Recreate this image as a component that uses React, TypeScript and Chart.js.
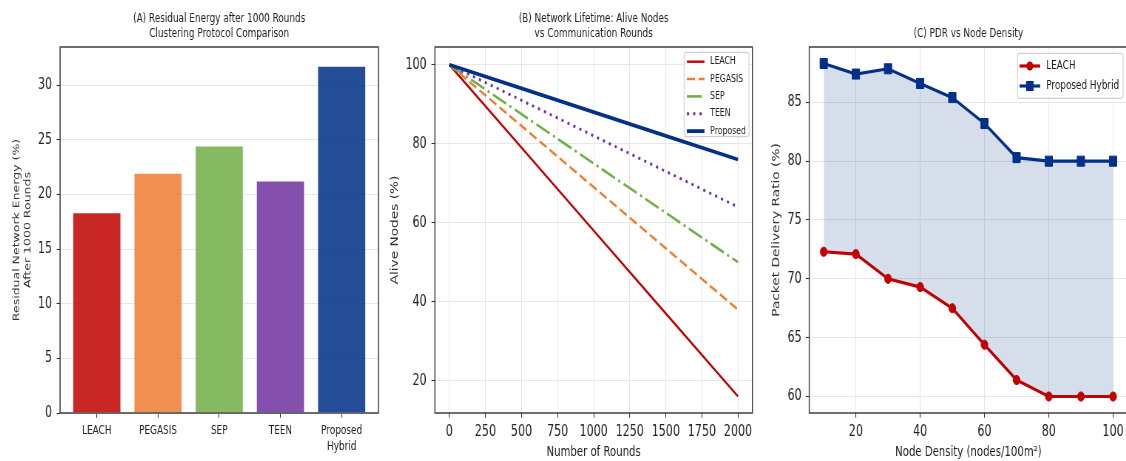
import React, { useEffect, useRef } from 'react';
import { Chart, registerables } from 'chart.js';
Chart.register(...registerables);

const FONT = "'DejaVu Sans', sans-serif";
// the reference figure is horizontally compressed; charts are drawn wider and squeezed by CSS
const K = 0.74;

// (A) residual energy
const energyCategories = ['LEACH', 'PEGASIS', 'SEP', 'TEEN', 'Proposed Hybrid'];
const energyTickLabels: (string | string[])[] = ['LEACH', 'PEGASIS', 'SEP', 'TEEN', ['Proposed', 'Hybrid']];
const residualEnergy = [18.4, 22.0, 24.5, 21.3, 31.8];
const energyYTicks = [0, 5, 10, 15, 20, 25, 30];
const barColors = ['rgba(192,0,0,0.85)', 'rgba(237,125,49,0.85)', 'rgba(112,173,71,0.85)', 'rgba(112,48,160,0.85)', 'rgba(0,48,135,0.86)'];

// (B) alive nodes
const rounds = [0, 500, 1000, 1500, 2000];
const aliveLEACH = [100, 79, 58, 37, 16];
const alivePEGASIS = [100, 84.5, 69, 53.5, 38];
const aliveSEP = [100, 87.5, 75, 62.5, 50];
const aliveTEEN = [100, 91, 82, 73, 64];
const aliveProposed = [100, 94, 88, 82, 76];
const lifetimeLabels = ['LEACH', 'PEGASIS', 'SEP', 'TEEN', 'Proposed'];
const roundTicks = [0, 250, 500, 750, 1000, 1250, 1500, 1750, 2000];
const aliveTicks = [20, 40, 60, 80, 100];

// (C) PDR
const nodeDensity = [10, 20, 30, 40, 50, 60, 70, 80, 90, 100];
const pdrLEACH = [72.3, 72.1, 70.0, 69.3, 67.5, 64.4, 61.4, 60.0, 60.0, 60.0];
const pdrProposed = [88.3, 87.4, 87.85, 86.6, 85.4, 83.2, 80.3, 80.0, 80.0, 80.0];
const densityTicks = [20, 40, 60, 80, 100];
const pdrTicks = [60, 65, 70, 75, 80, 85];

const RED = '#C00000';
const ORANGE = '#ED7D31';
const GREEN = '#70AD47';
const PURPLE = '#7030A0';
const NAVY = '#003087';
const GRID = '#e6e6e6';
const SPINE = '#333333';

const framePlugin = {
  id: 'frame',
  afterDatasetsDraw(chart: any) {
    const { ctx, chartArea: a } = chart;
    ctx.save();
    ctx.strokeStyle = SPINE;
    ctx.lineWidth = 1.4;
    ctx.strokeRect(a.left, a.top, a.right - a.left, a.bottom - a.top);
    ctx.restore();
  },
};

const legendPlugin = {
  id: 'boxLegend',
  afterDraw(chart: any, _args: any, o: any) {
    if (!o || !o.items) return;
    const { ctx, chartArea: a } = chart;
    ctx.save();
    ctx.font = `${o.fontSize}px ${FONT}`;
    let maxW = 0;
    o.items.forEach((it: any) => { maxW = Math.max(maxW, ctx.measureText(it.label).width); });
    const width = o.textX + maxW + o.padRight;
    const x1 = a.right - o.right;
    const x0 = x1 - width;
    const y0 = a.top + o.top;
    const h = o.height;
    const r = 3;
    ctx.beginPath();
    ctx.moveTo(x0 + r, y0);
    ctx.lineTo(x1 - r, y0);
    ctx.quadraticCurveTo(x1, y0, x1, y0 + r);
    ctx.lineTo(x1, y0 + h - r);
    ctx.quadraticCurveTo(x1, y0 + h, x1 - r, y0 + h);
    ctx.lineTo(x0 + r, y0 + h);
    ctx.quadraticCurveTo(x0, y0 + h, x0, y0 + h - r);
    ctx.lineTo(x0, y0 + r);
    ctx.quadraticCurveTo(x0, y0, x0 + r, y0);
    ctx.closePath();
    ctx.fillStyle = 'rgba(255,255,255,0.85)';
    ctx.fill();
    ctx.strokeStyle = '#d0d0d0';
    ctx.lineWidth = 1.2;
    ctx.stroke();
    o.items.forEach((it: any, i: number) => {
      const y = y0 + o.firstY + i * o.step;
      ctx.strokeStyle = it.color;
      ctx.lineWidth = it.width;
      ctx.setLineDash(it.dash || []);
      ctx.beginPath();
      ctx.moveTo(x0 + o.lineX0, y);
      ctx.lineTo(x0 + o.lineX1, y);
      ctx.stroke();
      ctx.setLineDash([]);
      const mx = x0 + (o.lineX0 + o.lineX1) / 2;
      ctx.fillStyle = it.color;
      if (it.marker === 'circle') {
        ctx.beginPath();
        ctx.arc(mx, y, it.markerSize, 0, Math.PI * 2);
        ctx.fill();
      } else if (it.marker === 'rect') {
        const s = it.markerSize;
        ctx.fillRect(mx - s, y - s, 2 * s, 2 * s);
      }
      ctx.fillStyle = '#222';
      ctx.textBaseline = 'middle';
      ctx.textAlign = 'left';
      ctx.fillText(it.label, x0 + o.textX, y);
    });
    ctx.restore();
  },
};

const fixWidth = (w: number) => (s: any) => { s.width = w; s.paddingTop = 0; s.paddingBottom = 0; };
const fixHeight = (h: number) => (s: any) => { s.height = h; s.paddingLeft = 0; s.paddingRight = 0; };
const fixedTicks = (values: number[]) => (s: any) => { s.ticks = values.map((v) => ({ value: v })); };

const TICK_LEN = 4.7;
const numTicks = { font: { family: FONT, size: 15, lineHeight: 1.2 }, color: '#222', autoSkip: false, maxRotation: 0, callback: (v: number) => String(v) };
const titleFont = { family: FONT, size: 12, lineHeight: 1.25, weight: 'normal' };
const tickGrid = { color: GRID, lineWidth: 1, tickLength: TICK_LEN, tickColor: SPINE, tickWidth: 1.1 };

function configA(): any {
  return {
    type: 'bar',
    data: {
      datasets: [{
        label: 'Residual Energy',
        data: energyCategories.map((_c, i) => ({ x: i, y: residualEnergy[i] })),
        backgroundColor: barColors,
        borderColor: 'rgba(255,255,255,0.9)',
        borderWidth: 1.2,
        barPercentage: 0.8,
        categoryPercentage: 1,
      }],
    },
    plugins: [framePlugin],
    options: {
      responsive: false,
      animation: false,
      events: [],
      layout: { autoPadding: false, padding: { left: 0, right: 2.2, top: 0, bottom: 0 } },
      plugins: {
        legend: { display: false },
        tooltip: { enabled: false },
        title: {
          display: true,
          fullSize: false,
          text: ['(A) Residual Energy after 1000 Rounds', 'Clustering Protocol Comparison'],
          font: titleFont,
          color: '#222',
          padding: { top: 11, bottom: 6 },
        },
      },
      scales: {
        x: {
          type: 'linear',
          min: -0.6,
          max: 4.6,
          offset: false,
          afterFit: fixHeight(48),
          afterBuildTicks: fixedTicks(energyCategories.map((_c, i) => i)),
          border: { display: false },
          grid: { ...tickGrid, drawOnChartArea: false, offset: false },
          ticks: {
            padding: 5.5,
            autoSkip: false,
            maxRotation: 0,
            font: { family: FONT, size: 12, lineHeight: 1.3 },
            color: '#222',
            callback: (v: number) => energyTickLabels[Math.round(v)] ?? '',
          },
        },
        y: {
          min: 0,
          max: 33.5,
          afterFit: fixWidth(81.1),
          afterBuildTicks: fixedTicks(energyYTicks),
          border: { display: false },
          grid: tickGrid,
          ticks: { ...numTicks, padding: 6.1 },
          title: {
            display: true,
            text: ['Residual Network Energy (%)', 'After 1000 Rounds'],
            font: { family: FONT, size: 12.5, lineHeight: 1.25 },
            color: '#333',
            padding: { top: 14.8, bottom: 0 },
          },
        },
      },
    },
  };
}

function configB(): any {
  const series = [aliveLEACH, alivePEGASIS, aliveSEP, aliveTEEN, aliveProposed];
  const colors = [RED, ORANGE, GREEN, PURPLE, NAVY];
  const widths = [2.4, 2.6, 2.6, 2.8, 3.8];
  const dashes = [[], [11, 5], [20, 5, 3, 5], [3, 5.5], []];
  return {
    type: 'line',
    data: {
      datasets: series.map((s, k) => ({
        label: lifetimeLabels[k],
        data: rounds.map((r, i) => ({ x: r, y: s[i] })),
        borderColor: colors[k],
        backgroundColor: colors[k],
        borderWidth: widths[k],
        borderDash: dashes[k],
        pointRadius: 0,
        tension: 0,
        fill: false,
        order: 5 - k,
      })),
    },
    plugins: [framePlugin, legendPlugin],
    options: {
      responsive: false,
      animation: false,
      events: [],
      layout: { autoPadding: false, padding: { left: 0, right: 10.3, top: 0, bottom: 0 } },
      plugins: {
        legend: { display: false },
        tooltip: { enabled: false },
        title: {
          display: true,
          fullSize: false,
          text: ['(B) Network Lifetime: Alive Nodes', 'vs Communication Rounds'],
          font: titleFont,
          color: '#222',
          padding: { top: 11, bottom: 6 },
        },
        boxLegend: {
          fontSize: 10.5,
          right: 4.6,
          top: 5.3,
          height: 84.4,
          firstY: 9.4,
          step: 17.35,
          lineX0: 3.7,
          lineX1: 27.5,
          textX: 35.2,
          padRight: 4.2,
          items: lifetimeLabels.map((l, k) => ({ label: l, color: colors[k], width: widths[k], dash: dashes[k] })),
        },
      },
      scales: {
        x: {
          type: 'linear',
          min: -100,
          max: 2100,
          afterFit: fixHeight(48),
          afterBuildTicks: fixedTicks(roundTicks),
          border: { display: false },
          grid: tickGrid,
          ticks: { ...numTicks, padding: 5.0 },
          title: {
            display: true,
            text: 'Number of Rounds',
            font: { family: FONT, size: 13.7, lineHeight: 1.2 },
            color: '#222',
            padding: { top: 0, bottom: 0 },
          },
        },
        y: {
          min: 11.8,
          max: 104.5,
          afterFit: fixWidth(74.3),
          afterBuildTicks: fixedTicks(aliveTicks),
          border: { display: false },
          grid: tickGrid,
          ticks: { ...numTicks, padding: 6.5 },
          title: {
            display: true,
            text: 'Alive Nodes (%)',
            font: { family: FONT, size: 13.7, lineHeight: 1.2 },
            color: '#333',
            padding: { top: 12.1, bottom: 0 },
          },
        },
      },
    },
  };
}

function configC(): any {
  return {
    type: 'line',
    data: {
      datasets: [
        {
          label: 'LEACH',
          data: nodeDensity.map((d, i) => ({ x: d, y: pdrLEACH[i] })),
          borderColor: RED,
          backgroundColor: RED,
          borderWidth: 3.2,
          pointStyle: 'circle',
          pointRadius: 4.6,
          pointBackgroundColor: RED,
          pointBorderColor: RED,
          pointBorderWidth: 1,
          tension: 0,
          fill: false,
        },
        {
          label: 'Proposed Hybrid',
          data: nodeDensity.map((d, i) => ({ x: d, y: pdrProposed[i] })),
          borderColor: NAVY,
          backgroundColor: 'rgba(0,48,135,0.16)',
          borderWidth: 3.2,
          pointStyle: 'rect',
          pointRadius: 7.1,
          pointBackgroundColor: NAVY,
          pointBorderColor: NAVY,
          pointBorderWidth: 1,
          tension: 0,
          fill: '-1',
        },
      ],
    },
    plugins: [framePlugin, legendPlugin],
    options: {
      responsive: false,
      animation: false,
      events: [],
      layout: { autoPadding: false, padding: { left: 0, right: 2, top: 0, bottom: 0 } },
      plugins: {
        legend: { display: false },
        tooltip: { enabled: false },
        filler: { propagate: false },
        title: {
          display: true,
          fullSize: false,
          text: '(C) PDR vs Node Density',
          font: titleFont,
          color: '#222',
          padding: { top: 26, bottom: 6 },
        },
        boxLegend: {
          fontSize: 12,
          right: 6,
          top: 6.3,
          height: 45,
          firstY: 12.7,
          step: 20,
          lineX0: 2.7,
          lineX1: 30.7,
          textX: 38.8,
          padRight: 5.3,
          items: [
            { label: 'LEACH', color: RED, width: 3.2, marker: 'circle', markerSize: 4.6 },
            { label: 'Proposed Hybrid', color: NAVY, width: 3.2, marker: 'rect', markerSize: 5 },
          ],
        },
      },
      scales: {
        x: {
          type: 'linear',
          min: 5.5,
          max: 104.5,
          afterFit: fixHeight(48),
          afterBuildTicks: fixedTicks(densityTicks),
          border: { display: false },
          grid: tickGrid,
          ticks: { ...numTicks, padding: 5.0 },
          title: {
            display: true,
            text: 'Node Density (nodes/100m²)',
            font: { family: FONT, size: 13.7, lineHeight: 1.2 },
            color: '#222',
            padding: { top: 0, bottom: 0 },
          },
        },
        y: {
          min: 58.6,
          max: 89.7,
          afterFit: fixWidth(66.6),
          afterBuildTicks: fixedTicks(pdrTicks),
          border: { display: false },
          grid: tickGrid,
          ticks: { ...numTicks, padding: 5.5 },
          title: {
            display: true,
            text: 'Packet Delivery Ratio (%)',
            font: { family: FONT, size: 13.7, lineHeight: 1.2 },
            color: '#333',
            padding: { top: 14.4, bottom: 0 },
          },
        },
      },
    },
  };
}

// logical (unsqueezed) canvas placement
const PANELS = [
  { left: 0, width: 513 },
  { left: 513.5, width: 514 },
  { left: 1027, width: 499 },
];

export default function App() {
  const aRef = useRef<HTMLCanvasElement>(null);
  const bRef = useRef<HTMLCanvasElement>(null);
  const cRef = useRef<HTMLCanvasElement>(null);

  useEffect(() => {
    const charts: Chart[] = [];
    if (aRef.current) charts.push(new Chart(aRef.current, configA()));
    if (bRef.current) charts.push(new Chart(bRef.current, configB()));
    if (cRef.current) charts.push(new Chart(cRef.current, configC()));
    return () => charts.forEach((c) => c.destroy());
  }, []);

  const canvasStyle = (p: { left: number; width: number }): React.CSSProperties => ({
    position: 'absolute', left: p.left * K, top: 0, width: p.width * K, height: 461, display: 'block',
  });

  return (
    <div style={{ position: 'fixed', left: 0, top: 0, width: 1126, height: 461, overflow: 'hidden', background: '#ffffff' }}>
      <canvas ref={aRef} width={PANELS[0].width} height={461} style={canvasStyle(PANELS[0])} />
      <canvas ref={bRef} width={PANELS[1].width} height={461} style={canvasStyle(PANELS[1])} />
      <canvas ref={cRef} width={PANELS[2].width} height={461} style={canvasStyle(PANELS[2])} />
    </div>
  );
}
